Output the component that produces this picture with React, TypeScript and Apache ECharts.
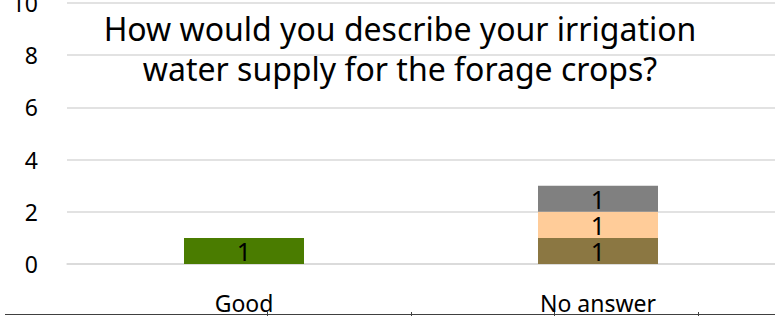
import React, { useEffect, useRef } from "react";
import * as echarts from "echarts";

const categories = ["Good", "No answer"];
const seriesNames = ["Series 1", "Series 2", "Series 3", "Series 4"];
const seriesValues: (number | string)[][] = [
  [1, "-"],
  ["-", 1],
  ["-", 1],
  ["-", 1],
];
const seriesColors = ["#4a7c00", "#8b7742", "#ffcc99", "#808080"];
const titleLines = ["How would you describe your irrigation", "water supply for the forage crops?"];
const yTicks = { min: 0, max: 10, interval: 2 };
const bottomTicks = [267, 411, 554, 698];

export default function App() {
  const ref = useRef<HTMLDivElement>(null);
  useEffect(() => {
    document.body.style.margin = "0";
    const chart = echarts.init(ref.current!, null, { renderer: "svg" });
    const font = "'Noto Sans', sans-serif";
    chart.setOption({
      animation: false,
      backgroundColor: "#ffffff",
      grid: {
        left: 67,
        right: 0,
        top: 3,
        bottom: 52,
        containLabel: false,
        outerBoundsMode: "none",
      },
      xAxis: {
        type: "category",
        data: categories,
        axisLine: { show: true, lineStyle: { color: "#d9d9d9", width: 1.5 } },
        axisTick: { show: false },
        axisLabel: { color: "#000", fontSize: 23, fontFamily: font, margin: 27 },
      },
      yAxis: {
        type: "value",
        min: yTicks.min,
        max: yTicks.max,
        interval: yTicks.interval,
        axisLine: { show: false },
        axisTick: { show: false },
        splitLine: { lineStyle: { color: "#d9d9d9", width: 1.5 } },
        axisLabel: { color: "#000", fontSize: 23, fontFamily: font, margin: 29 },
      },
      series: seriesNames.map((name, i) => ({
        name,
        type: "bar",
        stack: "total",
        barWidth: 120,
        data: seriesValues[i],
        itemStyle: { color: seriesColors[i] },
        label: {
          show: true,
          position: "inside",
          color: "#000",
          fontSize: 25,
          fontFamily: font,
        },
      })),
      graphic: [
        {
          type: "text",
          x: 400,
          y: 8,
          style: {
            text: titleLines.join("\n"),
            textAlign: "center",
            fontSize: 32,
            lineHeight: 40,
            fontFamily: font,
            fill: "#000",
          },
        },
        {
          type: "line",
          shape: { x1: 5, y1: 314.5, x2: 775, y2: 314.5 },
          style: { stroke: "#404040", lineWidth: 1 },
        },
        ...bottomTicks.map((x) => ({
          type: "line",
          shape: { x1: x + 0.5, y1: 312, x2: x + 0.5, y2: 316 },
          style: { stroke: "#404040", lineWidth: 1 },
        })),
      ],
    });
    return () => chart.dispose();
  }, []);
  return <div ref={ref} style={{ width: 775, height: 316 }} />;
}
